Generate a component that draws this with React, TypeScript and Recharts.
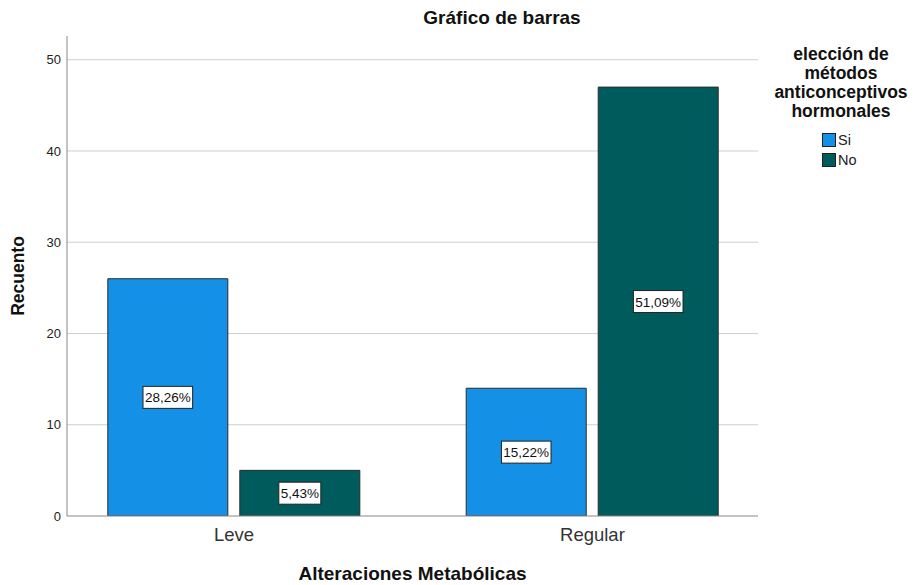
import React from 'react';
import { BarChart, Bar, XAxis, YAxis, CartesianGrid, LabelList, Label } from 'recharts';

const categories = ['Leve', 'Regular'];
const siCounts = [26, 14];
const noCounts = [5, 47];
const siPct = ['28,26%', '15,22%'];
const noPct = ['5,43%', '51,09%'];
const yTicks = [0, 10, 20, 30, 40, 50];
const gridValues = [10, 20, 30, 40, 50];
const legendTitle = ['elección de', 'métodos', 'anticonceptivos', 'hormonales'];
const seriesNames = ['Si', 'No'];

const SI_COLOR = '#1491E6';
const NO_COLOR = '#005C5C';
const FONT = '"Liberation Sans", Arial, sans-serif';

const data = categories.map((c, i) => ({
  x: i + 1,
  name: c,
  si: siCounts[i],
  no: noCounts[i],
  siPct: siPct[i],
  noPct: noPct[i],
}));

const BoxLabel = (props: any) => {
  const { x, y, width, height, value } = props;
  const cx = x + width / 2;
  const cy = y + height / 2;
  const w = value.length * 7.6 + 4;
  return (
    <g>
      <rect x={cx - w / 2} y={cy - 11} width={w} height={22} fill="#fff" stroke="#222" strokeWidth={1} />
      <text x={cx} y={cy + 5} textAnchor="middle" fontSize={13.5} fontFamily={FONT} fill="#111">
        {value}
      </text>
    </g>
  );
};

export default function App() {
  return (
    <div style={{ position: 'absolute', left: 0, top: 0, width: 921, height: 585, background: '#fff' }}>
      <div style={{ position: 'absolute', left: 0, top: 7, width: 1004, textAlign: 'center', fontFamily: FONT, fontWeight: 'bold', fontSize: 19, color: '#111' }}>
        Gráfico de barras
      </div>
      <div style={{ position: 'absolute', left: 760, top: 45, width: 162, fontFamily: FONT, textAlign: 'center' }}>
        {legendTitle.map((t) => (
          <div key={t} style={{ fontWeight: 'bold', fontSize: 17.5, lineHeight: '19px', color: '#111' }}>{t}</div>
        ))}
      </div>
      <div style={{ position: 'absolute', left: 822, top: 130, fontFamily: FONT }}>
        {seriesNames.map((n, i) => (
          <div key={n} style={{ display: 'flex', alignItems: 'center', height: 20, fontSize: 14.5, color: '#222' }}>
            <span style={{ display: 'inline-block', width: 12, height: 12, background: i === 0 ? SI_COLOR : NO_COLOR, border: '1px solid #222', marginRight: 2 }} />
            {n}
          </div>
        ))}
      </div>
      <BarChart
        width={921}
        height={585}
        data={data}
        margin={{ top: 36, right: 163, bottom: 0, left: 0 }}
        barGap={12}
      >
        <CartesianGrid vertical={false} stroke="#cfcfcf" horizontalValues={gridValues} />
        <XAxis
          type="number"
          dataKey="x"
          domain={[0.534, 2.462]}
          ticks={[1, 2]}
          allowDataOverflow
          tickFormatter={(v: number) => categories[v - 1]}
          tickLine={false}
          axisLine={{ stroke: '#888' }}
          height={69}
          tick={{ fontSize: 18.5, fill: '#333', fontFamily: FONT }}
          tickMargin={6}
        >
          <Label
            value="Alteraciones Metabólicas"
            position="insideBottom"
            offset={5}
            style={{ fontSize: 19, fontWeight: 'bold', fill: '#111', fontFamily: FONT }}
          />
        </XAxis>
        <YAxis
          domain={[0, 52.6]}
          ticks={yTicks}
          allowDataOverflow
          width={67}
          tickLine={false}
          axisLine={{ stroke: '#888' }}
          tick={{ fontSize: 13, fill: '#222', fontFamily: FONT }}
          tickMargin={0}
        >
          <Label
            value="Recuento"
            angle={-90}
            position="insideLeft"
            offset={18}
            style={{ fontSize: 17.5, fontWeight: 'bold', fill: '#111', fontFamily: FONT, textAnchor: 'middle' }}
          />
        </YAxis>
        <Bar dataKey="si" name="Si" fill={SI_COLOR} stroke="#2a2a2a" strokeWidth={1} barSize={120} isAnimationActive={false}>
          <LabelList dataKey="siPct" content={BoxLabel} />
        </Bar>
        <Bar dataKey="no" name="No" fill={NO_COLOR} stroke="#2a2a2a" strokeWidth={1} barSize={120} isAnimationActive={false}>
          <LabelList dataKey="noPct" content={BoxLabel} />
        </Bar>
      </BarChart>
    </div>
  );
}
